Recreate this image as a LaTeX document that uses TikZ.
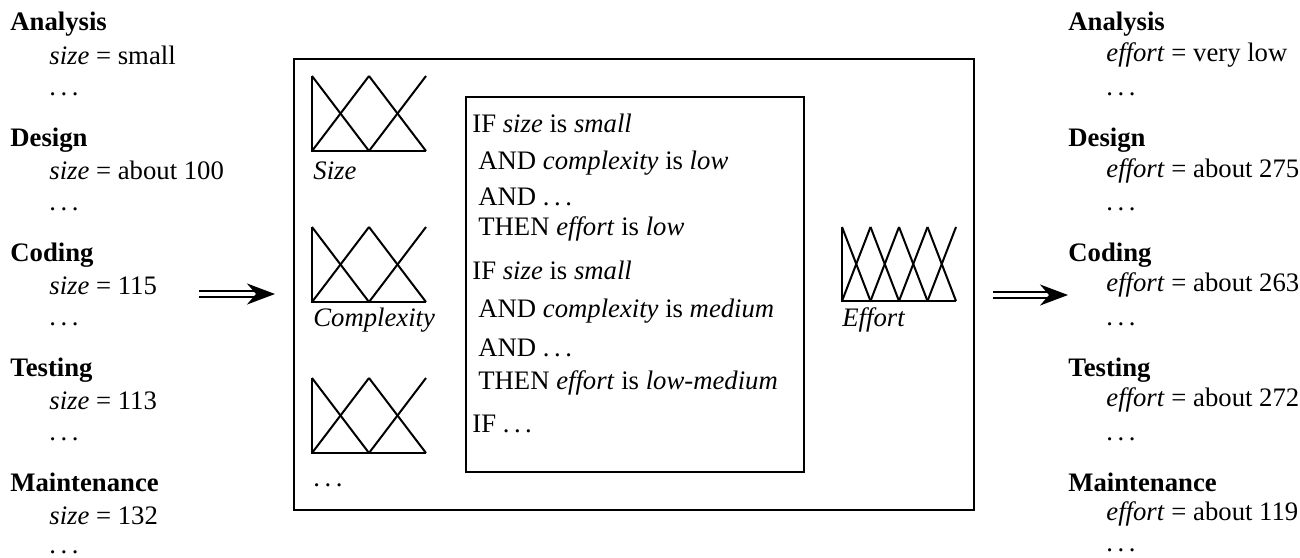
\documentclass[tikz,border=0pt]{standalone}
\usepackage{fontspec}
\setmainfont{Liberation Serif}
\usetikzlibrary{arrows.meta}
\newcommand{\mfdraw}[5]{%
  \draw[mfline] (#1,#2) -- (#1,#3) -- ({#1+#4*#5},#3);
  \foreach \i in {1,...,#4} {
    \draw[mfline] ({#1+(\i-1)*#5},#2) -- ({#1+\i*#5},#3);
    \draw[mfline] ({#1+(\i-1)*#5},#3) -- ({#1+\i*#5},#2);
  }}
\newcommand{\dd}{.\kern0.17em.\kern0.17em.}
\begin{document}
\begin{tikzpicture}[x=0.5pt,y=-0.5pt,
  txt/.style={anchor=base west, inner sep=0pt, font=\fontsize{13.35}{16}\selectfont},
  hd/.style={txt, font=\fontsize{13.35}{16}\selectfont\bfseries},
  itx/.style={txt, font=\fontsize{13.35}{16}\selectfont\itshape},
  box/.style={draw, line width=1pt, inner sep=0pt, anchor=north west},
  mfline/.style={line width=1pt},
  bigarrow/.style={double, line width=1.1pt, double distance=1.6pt, -{Stealth[length=14pt,width=10.5pt,inset=4.5pt]}}
]
\useasboundingbox (0,0) rectangle (1300,557);

% boxes
\node[box, minimum width=340pt, minimum height=225.5pt] (outer) at (293,58) {};
\node[box, minimum width=169pt, minimum height=187.5pt] (inner) at (465,96) {};

% membership functions
\mfdraw{312}{76}{151}{2}{57}
\mfdraw{312}{227}{302}{2}{57}
\mfdraw{312}{378}{453}{2}{57}
\mfdraw{842}{227}{301}{4}{28.5}

\node[itx] (lsize) at (313,179) {Size};
\node[itx] (lcomp) at (313,326) {Complexity};
\node[txt] (ldots) at (313,486) {\dd};
\node[itx] (leff) at (842,326) {Effort};

% rules
\node[txt] (r1) at (472,132) {IF \textit{size} is \textit{small}};
\node[txt] (r2) at (478,169) {AND \textit{complexity} is \textit{low}};
\node[txt] (r3) at (478,205) {AND \dd};
\node[txt] (r4) at (478,235) {THEN \textit{effort} is \textit{low}};
\node[txt] (r5) at (472,279) {IF \textit{size} is \textit{small}};
\node[txt] (r6) at (478,317) {AND \textit{complexity} is \textit{medium}};
\node[txt] (r7) at (478,356) {AND \dd};
\node[txt] (r8) at (478,389) {THEN \textit{effort} is \textit{low-medium}};
\node[txt] (r9) at (472,432) {IF \dd};

% left column
\node[hd]  (la) at (10,31) {Analysis};
\node[txt] (lav) at (49,64) {\textit{size} = small};
\node[txt] (lad) at (49,95) {\dd};
\node[hd]  (ld) at (10,146) {Design};
\node[txt] (ldv) at (49,179) {\textit{size} = about 100};
\node[txt] (ldd) at (49,210) {\dd};
\node[hd]  (lc) at (10,261) {Coding};
\node[txt] (lcv) at (49,294) {\textit{size} = 115};
\node[txt] (lcd) at (49,325) {\dd};
\node[hd]  (lt) at (10,376) {Testing};
\node[txt] (ltv) at (49,409) {\textit{size} = 113};
\node[txt] (ltd) at (49,440) {\dd};
\node[hd]  (lm) at (10,491) {Maintenance};
\node[txt] (lmv) at (49,524) {\textit{size} = 132};
\node[txt] (lmd) at (49,553) {\dd};

% right column
\node[hd]  (ra) at (1068,31) {Analysis};
\node[txt] (rav) at (1106,61) {\textit{effort} = very low};
\node[txt] (rad) at (1106,95) {\dd};
\node[hd]  (rd) at (1068,146) {Design};
\node[txt] (rdv) at (1106,177) {\textit{effort} = about 275};
\node[txt] (rdd) at (1106,210) {\dd};
\node[hd]  (rc) at (1068,261) {Coding};
\node[txt] (rcv) at (1106,291) {\textit{effort} = about 263};
\node[txt] (rcd) at (1106,325) {\dd};
\node[hd]  (rt) at (1068,376) {Testing};
\node[txt] (rtv) at (1106,406) {\textit{effort} = about 272};
\node[txt] (rtd) at (1106,440) {\dd};
\node[hd]  (rm) at (1068,491) {Maintenance};
\node[txt] (rmv) at (1106,520) {\textit{effort} = about 119};
\node[txt] (rmd) at (1106,551) {\dd};

% arrows
\coordinate (la1) at (199,294);
\coordinate (la2) at (275,294);
\coordinate (ra1) at (993,295);
\coordinate (ra2) at (1068,295);
\draw[bigarrow] (la1) -- (la2);
\draw[bigarrow] (ra1) -- (ra2);
\end{tikzpicture}
\end{document}
